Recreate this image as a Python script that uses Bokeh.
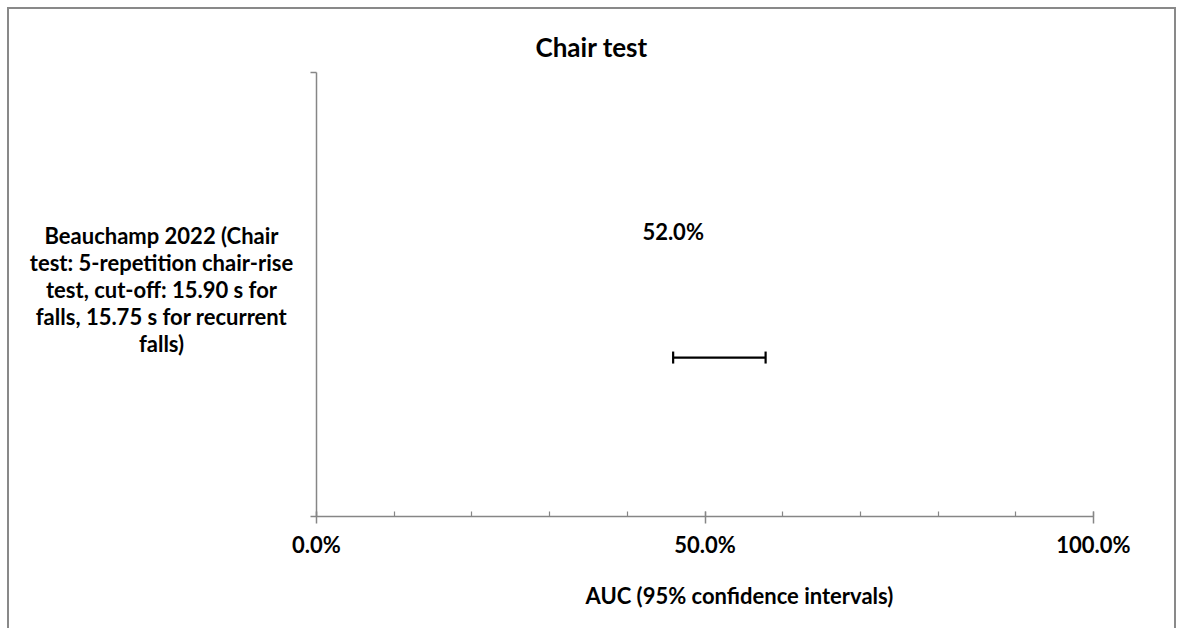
from bokeh.plotting import figure
from bokeh.models import (Range1d, FixedTicker, ColumnDataSource, Whisker, TeeHead, Title, Label)
from bokeh.core.properties import value
from bokeh.embed import file_html
from bokeh.resources import INLINE

# ---- data ----
title_text = "Chair test"
categories = ["Beauchamp 2022 (Chair\ntest: 5-repetition chair-rise\ntest, cut-off: 15.90 s for\nfalls, 15.75 s for recurrent\nfalls)"]
auc = [52.0]
ci_low = [45.9]
ci_high = [57.8]
x_ticks = [0, 50, 100]
x_tick_labels = ["0.0%", "50.0%", "100.0%"]
x_minor_ticks = [0, 10, 20, 30, 40, 50, 60, 70, 80, 90, 100]
x_title = "AUC (95% confidence intervals)"

FONT = "Lato"
GRAY = "#868686"
BORDER = "#898989"

p = figure(width=1178, height=628, output_backend="svg", toolbar_location=None,
           x_range=Range1d(0, 100), y_range=Range1d(0, len(categories)),
           min_border_left=316, min_border_right=85, min_border_top=72, min_border_bottom=112,
           title=None)
p.title = Title(text=title_text, align="left", offset=219, standoff=20,
                text_font=FONT, text_font_size="26px",
                text_font_style="bold", text_color="black")
p.outline_line_color = None
p.grid.visible = False
p.background_fill_color = "white"
p.border_fill_color = None
p.styles = {
    "box-shadow": (f"inset 7px 7px 0 0 white, inset -2px 0 0 0 white, "
                   f"inset 9px 9px 0 0 {BORDER}, inset -4px 0 0 0 {BORDER}"),
    "background-color": "white",
}

# x axis
xa = p.xaxis[0]
xa.ticker = FixedTicker(ticks=x_ticks, minor_ticks=x_minor_ticks)
xa.major_label_overrides = {t: l for t, l in zip(x_ticks, x_tick_labels)}
xa.axis_line_color = GRAY
xa.axis_line_width = 1.5
xa.major_tick_line_color = GRAY
xa.major_tick_line_width = 1.5
xa.major_tick_in = 5
xa.major_tick_out = 7
xa.minor_tick_line_color = GRAY
xa.minor_tick_line_width = 1.2
xa.minor_tick_in = 5
xa.minor_tick_out = 0
xa.major_label_text_font = FONT
xa.major_label_text_font_size = "22px"
xa.major_label_text_font_style = "bold"
xa.major_label_text_color = "black"
xa.major_label_standoff = 7
# x-axis title (placed below the axis, slightly right of centre as in the original)
p.add_layout(Title(text=x_title, align="left", offset=269, standoff=38,
                   text_font=FONT, text_font_size="22px", text_font_style="bold",
                   text_color="black"), "below")

# y axis: ticks at the category edges
edges = list(range(len(categories) + 1))
centers = [i + 0.5 for i in range(len(categories))]
ya = p.yaxis[0]
ya.ticker = FixedTicker(ticks=[], minor_ticks=edges)
ya.axis_line_color = GRAY
ya.axis_line_width = 1.5
ya.major_tick_in = 0
ya.major_tick_out = 0
ya.minor_tick_line_color = GRAY
ya.minor_tick_line_width = 1.5
ya.minor_tick_in = 0
ya.minor_tick_out = 6
ya.major_label_text_font_size = "0px"
ya.major_label_standoff = 0

# category names, centred lines, in the left panel beside the axis
for name in categories:
    p.add_layout(Label(x=114, x_units="screen", y=227, y_units="screen", text=name,
                       text_align="center", text_baseline="middle",
                       text_font=FONT, text_font_size="22px", text_font_style="bold",
                       text_color="black", text_line_height=1.0), "left")

# error bars and value labels
off = 0.142
src = ColumnDataSource(dict(
    y=[c - off for c in centers], ly=[c + off for c in centers],
    lo=ci_low, hi=ci_high, auc=auc,
    lab=[f"{a:.1f}%" for a in auc]))
w = Whisker(base="y", lower="lo", upper="hi", dimension="width", source=src,
            line_color="black", line_width=2.2,
            lower_head=TeeHead(size=12, line_color="black", line_width=2.2),
            upper_head=TeeHead(size=12, line_color="black", line_width=2.2))
p.add_layout(w)
p.text(x="lo", y="ly", text="lab", source=src, text_align="center", text_baseline="middle",
       text_font=value(FONT), text_font_size="22px", text_font_style="bold", text_color="black")

open("out.html", "w").write(file_html(p, INLINE))
